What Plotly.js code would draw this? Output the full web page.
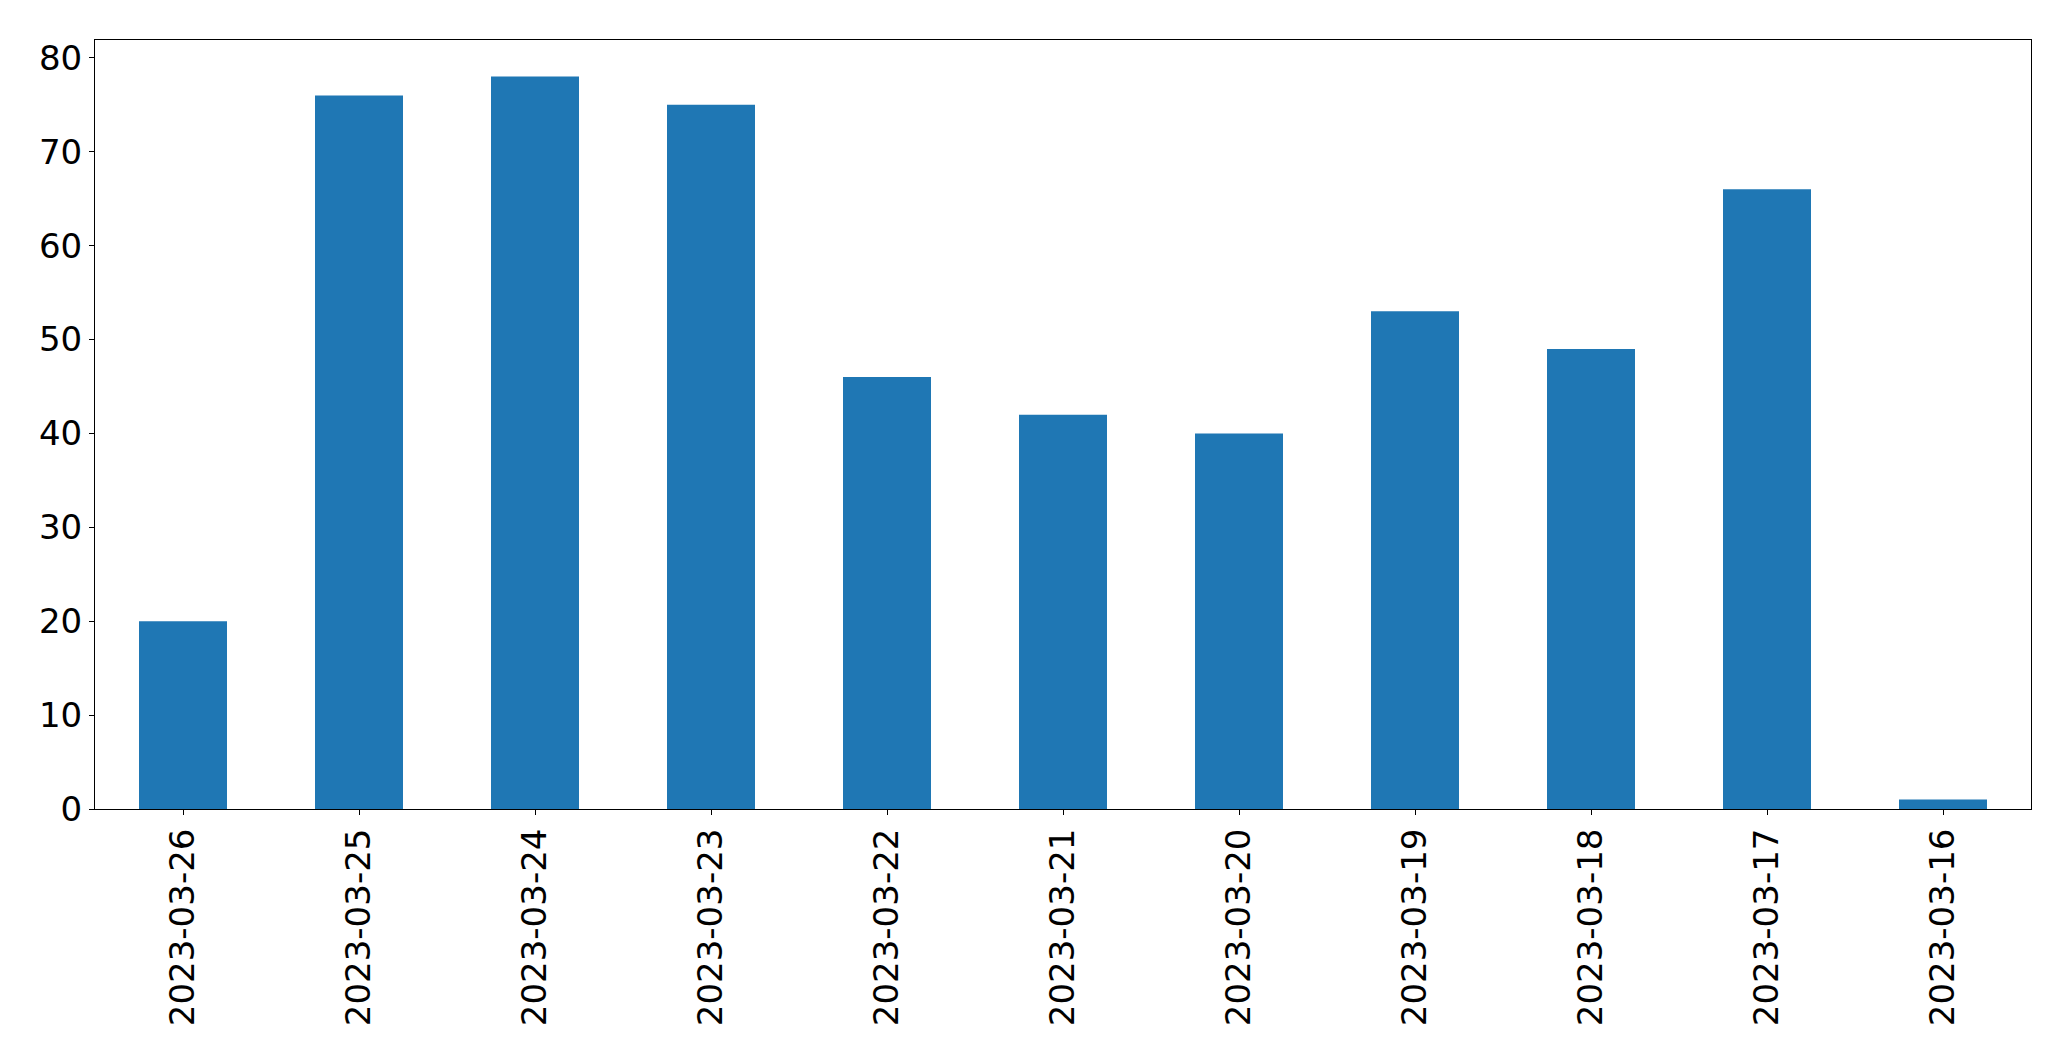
<!DOCTYPE html>
<html>
<head>
<meta charset="utf-8">
<script src="https://cdn.plot.ly/plotly-3.0.1.min.js"></script>
<style>html,body{margin:0;padding:0;background:#fff;}#chart{width:2071px;height:1061px;}</style>
</head>
<body>
<div id="chart"></div>
<script>
const dates = ["2023-03-26","2023-03-25","2023-03-24","2023-03-23","2023-03-22","2023-03-21","2023-03-20","2023-03-19","2023-03-18","2023-03-17","2023-03-16"];
const counts = [20, 76, 78, 75, 46, 42, 40, 53, 49, 66, 1];
const yTicks = [0, 10, 20, 30, 40, 50, 60, 70, 80];

const trace = {
  type: 'bar',
  x: dates,
  y: counts,
  marker: {color: '#1f77b4', line: {width: 0}},
  hoverinfo: 'x+y'
};
const font = {family: 'DejaVu Sans, sans-serif', size: 34, color: '#000'};
const layout = {
  width: 2071, height: 1061,
  margin: {l: 95, r: 40, t: 40, b: 252, pad: 0},
  paper_bgcolor: '#fff', plot_bgcolor: '#fff',
  showlegend: false,
  bargap: 0.5,
  font: font,
  xaxis: {
    type: 'category',
    range: [-0.5, dates.length - 0.5],
    tickangle: -90,
    tickfont: font,
    ticks: 'outside', ticklen: 5, tickwidth: 1, tickcolor: '#000',
    showline: true, mirror: true, linecolor: '#000', linewidth: 1,
    showgrid: false, zeroline: false, fixedrange: true
  },
  yaxis: {
    range: [0, 81.9],
    tickvals: yTicks,
    ticktext: yTicks.map(String),
    tickfont: font,
    ticks: 'outside', ticklen: 5, tickwidth: 1, tickcolor: '#000',
    showline: true, mirror: true, linecolor: '#000', linewidth: 1,
    showgrid: false, zeroline: false, fixedrange: true
  }
};
Plotly.newPlot('chart', [trace], layout, {displayModeBar: false, staticPlot: true});
</script>
</body>
</html>
